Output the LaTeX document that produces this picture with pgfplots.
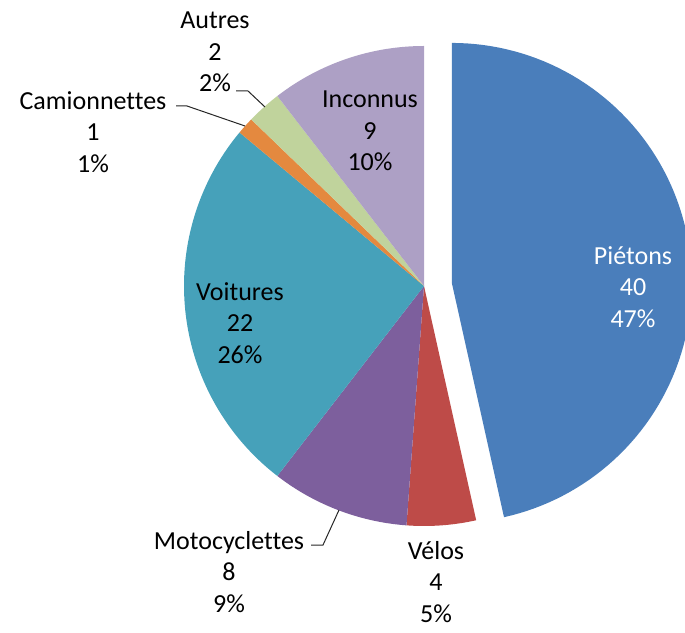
\documentclass[border=0pt]{standalone}
\usepackage{pgfplots}
\pgfplotsset{compat=1.18}
\usepackage{fontspec}
\setmainfont[Ligatures=NoCommon]{Carlito}
\definecolor{cPie}{HTML}{4A7EBB}
\definecolor{cVel}{HTML}{BE4B48}
\definecolor{cMot}{HTML}{7D5F9D}
\definecolor{cVoi}{HTML}{46A1BA}
\definecolor{cCam}{HTML}{E4893F}
\definecolor{cAut}{HTML}{C0D39C}
\definecolor{cInc}{HTML}{ADA0C5}
\begin{document}
\begin{tikzpicture}
% data: Pietons 40, Velos 4, Motocyclettes 8, Voitures 22, Camionnettes 1, Autres 2, Inconnus 9
\def\vA{40}\def\vB{4}\def\vC{8}\def\vD{22}\def\vE{1}\def\vF{2}\def\vG{9}
\pgfmathsetmacro{\tot}{\vA+\vB+\vC+\vD+\vE+\vF+\vG}
\pgfmathsetmacro{\sc}{360/\tot}
\pgfmathsetmacro{\aO}{90}
\pgfmathsetmacro{\aA}{90-\sc*(\vA)}
\pgfmathsetmacro{\aB}{90-\sc*(\vA+\vB)}
\pgfmathsetmacro{\aC}{90-\sc*(\vA+\vB+\vC)}
\pgfmathsetmacro{\aD}{90-\sc*(\vA+\vB+\vC+\vD)}
\pgfmathsetmacro{\aE}{90-\sc*(\vA+\vB+\vC+\vD+\vE)}
\pgfmathsetmacro{\aF}{90-\sc*(\vA+\vB+\vC+\vD+\vE+\vF)}
\pgfmathsetmacro{\aG}{-270}
\pgfmathsetmacro{\amid}{(\aO+\aA)/2}
\pgfmathsetmacro{\exX}{424+28*cos(\amid)}
\pgfmathsetmacro{\exY}{346+28*sin(\amid)}
\def\cx{424}\def\cy{346}\def\R{240}
\begin{axis}[scale only axis, width=685pt, height=632pt,
  xmin=0, xmax=685, ymin=0, ymax=632, hide axis, clip=true,
  samples=90, variable=\t]
\addplot[draw=none, fill=cPie, domain=\aA:\aO] ({\exX+\R*cos(t)},{\exY+\R*sin(t)}) -- (axis cs:\exX,\exY) -- cycle;
\addplot[draw=none, fill=cVel, domain=\aB:\aA] ({\cx+\R*cos(t)},{\cy+\R*sin(t)}) -- (axis cs:\cx,\cy) -- cycle;
\addplot[draw=none, fill=cMot, domain=\aC:\aB] ({\cx+\R*cos(t)},{\cy+\R*sin(t)}) -- (axis cs:\cx,\cy) -- cycle;
\addplot[draw=none, fill=cVoi, domain=\aD:\aC] ({\cx+\R*cos(t)},{\cy+\R*sin(t)}) -- (axis cs:\cx,\cy) -- cycle;
\addplot[draw=none, fill=cCam, domain=\aE:\aD] ({\cx+\R*cos(t)},{\cy+\R*sin(t)}) -- (axis cs:\cx,\cy) -- cycle;
\addplot[draw=none, fill=cAut, domain=\aF:\aE] ({\cx+\R*cos(t)},{\cy+\R*sin(t)}) -- (axis cs:\cx,\cy) -- cycle;
\addplot[draw=none, fill=cInc, domain=\aG:\aF] ({\cx+\R*cos(t)},{\cy+\R*sin(t)}) -- (axis cs:\cx,\cy) -- cycle;
% leader lines
\draw[black!85, line width=1pt] (axis cs:176,526) -- (axis cs:187,526) -- (axis cs:245,506);
\draw[black!85, line width=1pt] (axis cs:236,541) -- (axis cs:248,541) -- (axis cs:265,525);
\draw[black!85, line width=1pt] (axis cs:311,87) -- (axis cs:323,87) -- (axis cs:339,122);
% labels
\tikzset{lab/.style={align=center, font=\fontsize{26}{31.5}\selectfont, inner sep=0pt}}
\node[lab, text=white] at (axis cs:633,345) {Piétons\\40\\47\%};
\node[lab] at (axis cs:436,50) {Vélos\\4\\5\%};
\node[lab] at (axis cs:229,60) {Motocyclettes\\8\\9\%};
\node[lab] at (axis cs:240,309) {Voitures\\22\\26\%};
\node[lab] at (axis cs:93,500) {Camionnettes\\1\\1\%};
\node[lab] at (axis cs:215,580) {Autres\\2\\2\%};
\node[lab] at (axis cs:370,501) {Inconnus\\9\\10\%};
\end{axis}
\pgfresetboundingbox
\useasboundingbox (0,0) rectangle (685pt,632pt);
\end{tikzpicture}
\end{document}
